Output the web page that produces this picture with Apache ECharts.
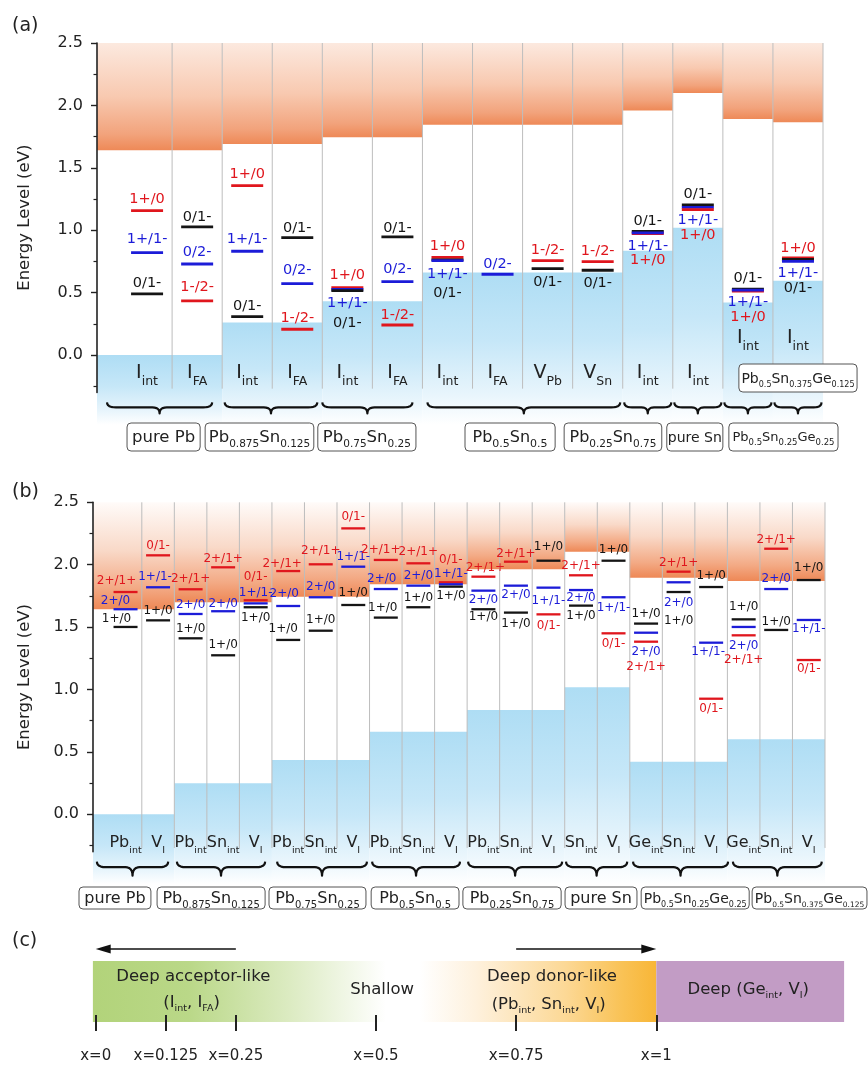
<!DOCTYPE html>
<html>
<head>
<meta charset="utf-8">
<script src="https://cdn.jsdelivr.net/npm/echarts@6/dist/echarts.min.js"></script>
<style>
html,body{margin:0;padding:0;background:#fff;}
#chart{width:868px;height:1065px;}
</style>
</head>
<body>
<div id="chart"></div>
<script>
// ================= DATA =================
// ---- panel (a) ----
const aCats = [['I','int'],['I','FA'],['I','int'],['I','FA'],['I','int'],['I','FA'],['I','int'],['I','FA'],['V','Pb'],['V','Sn'],['I','int'],['I','int'],['I','int'],['I','int']];
const aGroupStart = [-0.5, 2, 4, 6, 10, 11, 12, 13];
const aGroupEnd   = [2, 4, 6, 10, 11, 12, 13, 14];
const aCBM = [1.64, 1.69, 1.745, 1.845, 1.96, 2.10, 1.89, 1.865];
const aVBM = [0.0, 0.26, 0.43, 0.66, 0.835, 1.02, 0.42, 0.595];
const aLevelCol  = [0,0,0, 1,1,1, 2,2,2, 3,3,3, 4,4,4, 5,5,5, 6,6,6, 7, 8,8, 9,9, 10,10,10, 11,11,11, 12,12,12, 13,13,13];
const aLevelE    = [1.156,0.82,0.489, 1.026,0.729,0.433, 1.357,0.831,0.307, 0.94,0.571,0.206, 0.54,0.525,0.515, 0.946,0.587,0.24, 0.782,0.762,0.756, 0.647, 0.756,0.692, 0.748,0.679, 0.99,0.972,0.978, 1.203,1.183,1.165, 0.527,0.512,0.52, 0.777,0.765,0.75];
const aLevelType = [2,1,0, 0,1,2, 2,1,0, 0,1,2, 2,1,0, 0,1,2, 2,0,1, 1, 2,0, 2,0, 0,2,1, 0,1,2, 0,2,1, 2,0,1];
const aLevelText = ['1+/0','1+/1-','0/1-', '0/1-','0/2-','1-/2-', '1+/0','1+/1-','0/1-', '0/1-','0/2-','1-/2-', '1+/0','1+/1-','0/1-', '0/1-','0/2-','1-/2-', '1+/0','0/1-','1+/1-', '0/2-', '1-/2-','0/1-', '1-/2-','0/1-', '0/1-','1+/0','1+/1-', '0/1-','1+/1-','1+/0', '0/1-','1+/0','1+/1-', '1+/0','0/1-','1+/1-'];
const aBoxParts = [['pure Pb'], ['Pb','0.875','Sn','0.125'], ['Pb','0.75','Sn','0.25'], ['Pb','0.5','Sn','0.5'], ['Pb','0.25','Sn','0.75'], ['pure Sn'], ['Pb','0.5','Sn','0.25','Ge','0.25'], ['Pb','0.5','Sn','0.375','Ge','0.125']];

// ---- panel (b) ----
const bCats = [['Pb','int'],['V','I'],['Pb','int'],['Sn','int'],['V','I'],['Pb','int'],['Sn','int'],['V','I'],['Pb','int'],['Sn','int'],['V','I'],['Pb','int'],['Sn','int'],['V','I'],['Sn','int'],['V','I'],['Ge','int'],['Sn','int'],['V','I'],['Ge','int'],['Sn','int'],['V','I']];
const bGroupStart = [-0.5, 2, 5, 8, 11, 14, 16, 19];
const bGroupEnd   = [2, 5, 8, 11, 14, 16, 19, 22];
const bCBM = [1.643, 1.699, 1.744, 1.843, 1.963, 2.104, 1.896, 1.87];
const bVBM = [0.0, 0.248, 0.435, 0.662, 0.836, 1.018, 0.421, 0.601];
const bLevelCol  = [0,0,0, 1,1,1, 2,2,2, 3,3,3, 4,4,4, 5,5,5, 6,6,6, 7,7,7, 8,8,8, 9,9,9, 10,10,10, 11,11,11, 12,12,12, 13,13,13, 14,14,14, 15,15,15, 16,16,16, 17,17,17, 18,18,18, 19,19,19, 20,20,20, 21,21,21];
const bLevelE    = [1.781,1.643,1.501, 2.075,1.819,1.554, 1.803,1.605,1.41, 1.979,1.627,1.274, 1.715,1.69,1.659, 1.949,1.669,1.397, 2.003,1.739,1.471, 2.291,1.984,1.677, 2.038,1.805,1.576, 2.011,1.832,1.659, 1.859,1.843,1.824, 1.904,1.792,1.643, 2.024,1.832,1.616, 1.602,1.816,2.032, 1.915,1.797,1.672, 1.45,1.739,2.032, 1.383,1.455,1.528, 1.944,1.859,1.781, 0.926,1.375,1.821, 1.434,1.501,1.562, 2.128,1.805,1.477, 1.236,1.557,1.877];
const bLevelType = [2,1,0, 2,1,0, 2,1,0, 2,1,0, 2,1,0, 2,1,0, 2,1,0, 2,1,0, 2,1,0, 2,1,0, 2,1,0, 2,1,0, 2,1,0, 2,1,0, 2,1,0, 2,1,0, 2,1,0, 2,1,0, 2,1,0, 2,1,0, 2,1,0, 2,1,0];
const bLevelText = ['2+/1+','2+/0','1+/0', '0/1-','1+/1-','1+/0', '2+/1+','2+/0','1+/0', '2+/1+','2+/0','1+/0', '0/1-','1+/1-','1+/0', '2+/1+','2+/0','1+/0', '2+/1+','2+/0','1+/0', '0/1-','1+/1-','1+/0', '2+/1+','2+/0','1+/0', '2+/1+','2+/0','1+/0', '0/1-','1+/1-','1+/0', '2+/1+','2+/0','1+/0', '2+/1+','2+/0','1+/0', '0/1-','1+/1-','1+/0', '2+/1+','2+/0','1+/0', '0/1-','1+/1-','1+/0', '2+/1+','2+/0','1+/0', '2+/1+','2+/0','1+/0', '0/1-','1+/1-','1+/0', '2+/1+','2+/0','1+/0', '2+/1+','2+/0','1+/0', '0/1-','1+/1-','1+/0'];
const bBoxParts = [['pure Pb'], ['Pb','0.875','Sn','0.125'], ['Pb','0.75','Sn','0.25'], ['Pb','0.5','Sn','0.5'], ['Pb','0.25','Sn','0.75'], ['pure Sn'], ['Pb','0.5','Sn','0.25','Ge','0.25'], ['Pb','0.5','Sn','0.375','Ge','0.125']];

// ---- panel (c) ----
const cTickVals = [0, 0.125, 0.25, 0.5, 0.75, 1];
const cRegionStart = [-0.005, 1.0];
const cRegionEnd   = [1.0, 1.335];
const cTexts = [['Deep acceptor-like'], ['(I','int',', I','FA',')'], ['Shallow'], ['Deep donor-like'], ['(Pb','int',', Sn','int',', V','I',')'], ['Deep (Ge','int',', V','I',')']];
const cArrowFrom = [0.25, 0.75];
const cArrowTo   = [0.0, 1.0];

// ================= LAYOUT / STYLE =================
const aLabelDy = [-11,-13,-11, -10,-12,-14, -11,-12,-10, -9,-13,-11, -12,14,33, -9,-12,-10, -11,33,14, -10, -10,14, -10,13, -10,27,13, -11,13,26, -11,26,12, -10,29,12];
const aCatY = [-0.145,-0.145,-0.145,-0.145,-0.145,-0.145,-0.145,-0.145,-0.145,-0.145,-0.145,-0.145,0.137,0.137];
const aBraceStart = [-0.3, 2.05, 4.0, 6.1, 10.03, 11.03, 12.03, 13.03];
const aBraceEnd   = [1.8, 3.9, 5.8, 9.95, 10.97, 11.97, 12.97, 13.97];
const aBoxX1 = [0.1, 1.66, 3.91, 6.85, 8.83, 10.88, 12.12, 12.32];
const aBoxX2 = [1.56, 3.83, 5.87, 8.65, 10.78, 12.0, 14.3, 14.68];
const aBoxTop = [30.6, 30.6, 30.6, 30.6, 30.6, 30.6, 30.6, -28.4];
const aBoxH = 28;
const aBoxFont = [[16.5,10.5],[16.5,10.5],[16.5,10.5],[16,11],[16,10.5],[14,9],[13,8.5],[14,8]];

const bLabelDx = [-9,-10,-9, 0,-3,0, 0,0,0, 0,0,0, 0,0,0, -6,-4,-5, 0,0,0, 0,0,0, -5,-4,-3, 0,0,0, 0,0,0, 2,0,0, 0,0,0, 0,0,0, 0,0,0, 0,0,0, 0,0,0, 0,0,0, 0,-3,0, 0,0,0, 0,0,0, 0,0,0];
const bLabelDy = [-11,-8,-8, -9,-10,-9, -10,-9,-9, -8,-7,-10, -23,-11,11, -7,-12,-11, -13,-10,-11, -12,-10,-12, -10,-10,-10, -11,-10,-9, -22,-10,9, -9,9,8, -8,9,11, 12,13,-14, -9,8,10, 11,11,-11, 25,19,-10, -9,21,29, 10,9,-11, 25,19,-12, -9,-10,-8, 9,9,-12];
const bCatY = -0.23;
const bBraceStart = [-0.38, 2.08, 5.16, 8.08, 11.03, 14.04, 16.1, 19.17];
const bBraceEnd   = [1.81, 4.79, 7.92, 10.78, 13.92, 15.92, 19.02, 21.9];
const bBoxX1 = [-0.93, 1.47, 4.91, 8.05, 10.87, 14.01, 16.35, 19.76];
const bBoxX2 = [1.28, 4.79, 7.89, 10.75, 13.89, 16.22, 19.67, 23.29];
const bBoxTop = 35.3, bBoxH = 22;
const bBoxFont = [[16,10],[16,10],[16,10],[16,10],[16,10],[16,10],[14,8],[14,7.5]];

const cTextX  = [0.174, 0.171, 0.511, 0.814, 0.808, 1.164];
const cTextDy = [16, 42, 29, 16, 44, 29];

const FF = 'DejaVu Sans';
const INK = '#222';
const LEVEL_COLORS = ['#151515', '#1c1cd8', '#e0161d'];

// ================= HELPERS =================
function toRich(parts) {
  return parts.map((p, i) => (i % 2 === 0 ? '{m|' + p + '}' : '{s|' + p + '}')).join('');
}
function richStyle(m, s, lh, color) {
  return {
    m: {fontSize: m, fontFamily: FF, lineHeight: lh, fill: color},
    s: {fontSize: s, fontFamily: FF, lineHeight: Math.round(s * 1.1), verticalAlign: 'bottom', fill: color}
  };
}
function quadPts(p0, c, p1, n, out) {
  for (let k = 1; k <= n; k++) {
    const t = k / n, a = (1 - t) * (1 - t), b = 2 * (1 - t) * t, d = t * t;
    out.push([a * p0[0] + b * c[0] + d * p1[0], a * p0[1] + b * c[1] + d * p1[1]]);
  }
}
function bracePoints(x1, x2, y0, y1, y2) {
  const xm = (x1 + x2) / 2;
  const r = Math.min(9, (xm - x1) / 3);
  const pts = [[x1, y0]];
  quadPts([x1, y0], [x1, y1], [x1 + r, y1], 6, pts);
  pts.push([xm - r * 0.8, y1]);
  quadPts([xm - r * 0.8, y1], [xm, y1], [xm, y2], 6, pts);
  quadPts([xm, y2], [xm, y1], [xm + r * 0.8, y1], 6, pts);
  pts.push([x2 - r, y1]);
  quadPts([x2 - r, y1], [x2, y1], [x2, y0], 6, pts);
  return pts;
}
const G = echarts.graphic;
function grad(stops, horizontal) {
  return new G.LinearGradient(0, 0, horizontal ? 1 : 0, horizontal ? 0 : 1, stops.map(s => ({offset: s[0], color: s[1]})));
}
const orangeA = [[0, '#FCE9DF'], [0.5, '#F8C9B0'], [0.85, '#F2A37C'], [1, '#EE8957']];
const orangeB = [[0, '#FFFBF9'], [0.45, '#F9D9C8'], [0.8, '#F3AA85'], [1, '#EE8856']];
const blueFill = [[0, '#AEDDF4'], [0.45, '#C6E7F8'], [0.8, '#E8F5FC'], [1, '#FFFFFF']];

function fillRender(orangeStops) {
  return function (params, api) {
    const x1 = api.coord([api.value(0), 0])[0];
    const x2 = api.coord([api.value(1), 0])[0];
    const yTop = api.coord([0, 2.5])[1];
    const yC = api.coord([0, api.value(2)])[1];
    const yV = api.coord([0, api.value(3)])[1];
    const yB = api.coord([0, -0.56])[1];
    return {type: 'group', children: [
      {type: 'rect', shape: {x: x1, y: yTop, width: x2 - x1, height: yC - yTop}, style: {fill: grad(orangeStops)}},
      {type: 'rect', shape: {x: x1, y: yV, width: x2 - x1, height: yB - yV}, style: {fill: grad(blueFill)}}
    ]};
  };
}
function dividerRender(params, api) {
  const p1 = api.coord([api.value(0), 2.5]);
  const p2 = api.coord([api.value(0), -0.27]);
  return {type: 'line', shape: {x1: p1[0], y1: p1[1], x2: p2[0], y2: p2[1]}, style: {stroke: '#bdbdbd', lineWidth: 1}};
}
function levelRender(texts, dxs, dys, halfW, lw, fs) {
  return function (params, api) {
    const i = params.dataIndex;
    const p = api.coord([api.value(0), api.value(1)]);
    const color = LEVEL_COLORS[api.value(2)];
    return {type: 'group', children: [
      {type: 'line', shape: {x1: p[0] - halfW, y1: p[1], x2: p[0] + halfW, y2: p[1]}, style: {stroke: color, lineWidth: lw}},
      {type: 'text', x: p[0] + (dxs ? dxs[i] : 0), y: p[1] + dys[i], style: {text: texts[i], fill: color, fontFamily: FF, fontSize: fs, align: 'center', verticalAlign: 'middle'}}
    ]};
  };
}
function catRender(cats, m, s, lh) {
  return function (params, api) {
    const i = params.dataIndex;
    const p = api.coord([api.value(0), api.value(1)]);
    return {type: 'text', x: p[0], y: p[1], style: {text: toRich(cats[i]), rich: richStyle(m, s, lh, INK), align: 'center', verticalAlign: 'middle'}};
  };
}
function braceRender(d0, d1, d2) {
  return function (params, api) {
    const cs = params.coordSys;
    const yb = cs.y + cs.height;
    const x1 = api.coord([api.value(0), 0])[0];
    const x2 = api.coord([api.value(1), 0])[0];
    return {type: 'polyline', shape: {points: bracePoints(x1, x2, yb + d0, yb + d1, yb + d2)}, style: {stroke: '#111', lineWidth: 2.2, fill: null, lineJoin: 'round'}};
  };
}
function boxRender(parts, tops, h, fonts) {
  return function (params, api) {
    const i = params.dataIndex;
    const cs = params.coordSys;
    const yb = cs.y + cs.height;
    const x1 = api.coord([api.value(0), 0])[0];
    const x2 = api.coord([api.value(1), 0])[0];
    const top = yb + (Array.isArray(tops) ? tops[i] : tops);
    const f = fonts[i];
    return {type: 'group', children: [
      {type: 'rect', shape: {x: x1, y: top, width: x2 - x1, height: h, r: 4}, style: {fill: '#fff', stroke: '#555', lineWidth: 1}},
      {type: 'text', x: (x1 + x2) / 2, y: top + h / 2 + 1, style: {text: toRich(parts[i]), rich: richStyle(f[0], f[1], Math.round(f[0] * 1.45), INK), align: 'center', verticalAlign: 'middle'}}
    ]};
  };
}
const cFills = [grad([[0, '#B2D37A'], [0.17, '#BAD888'], [0.35, '#DCEBC2'], [0.52, '#FFFFFF'], [0.58, '#FFFFFF'], [0.68, '#FEF1DD'], [0.84, '#FCD895'], [0.94, '#F9C255'], [1, '#F8B637']], true), '#C29CC5'];
function cRegionRender(params, api) {
  const cs = params.coordSys;
  const x1 = api.coord([api.value(0), 0])[0];
  const x2 = api.coord([api.value(1), 0])[0];
  return {type: 'rect', shape: {x: x1, y: cs.y, width: x2 - x1, height: cs.height}, style: {fill: cFills[params.dataIndex]}};
}
function cArrowRender(params, api) {
  const cs = params.coordSys;
  const y = cs.y - 12;
  const xa = api.coord([api.value(0), 0])[0];
  const xb = api.coord([api.value(1), 0])[0];
  const dir = xb > xa ? 1 : -1;
  const hl = 15, hw = 4.5;
  return {type: 'group', children: [
    {type: 'line', shape: {x1: xa, y1: y, x2: xb - dir * hl * 0.8, y2: y}, style: {stroke: '#111', lineWidth: 1.6}},
    {type: 'polygon', shape: {points: [[xb, y], [xb - dir * hl, y - hw], [xb - dir * hl, y + hw]]}, style: {fill: '#111'}}
  ]};
}
function cTextRender(params, api) {
  const i = params.dataIndex;
  const cs = params.coordSys;
  const x = api.coord([api.value(0), 0])[0];
  return {type: 'text', x: x, y: cs.y + cTextDy[i], style: {text: toRich(cTexts[i]), rich: richStyle(16.5, 9.5, 22, INK), align: 'center', verticalAlign: 'middle'}};
}

// ================= OPTION =================
const majorVals = [0, 0.5, 1, 1.5, 2, 2.5];
const minorVals = [-0.25, 0.25, 0.75, 1.25, 1.75, 2.25];
function yMain(gi, gap) {
  return {gridIndex: gi, type: 'value', min: -0.3, max: 2.5, position: 'left', z: 10,
    name: 'Energy Level (eV)', nameLocation: 'middle', nameGap: gap,
    nameTextStyle: {fontFamily: FF, fontSize: 16.5, color: INK},
    axisLine: {show: true, onZero: false, lineStyle: {color: INK, width: 1.6}},
    axisTick: {show: true, customValues: majorVals, length: 6, lineStyle: {color: INK, width: 1.4}},
    axisLabel: {customValues: majorVals, formatter: v => v.toFixed(1), fontFamily: FF, fontSize: 16, color: INK, margin: 14},
    splitLine: {show: false}};
}
function yMinor(gi) {
  return {gridIndex: gi, type: 'value', min: -0.3, max: 2.5, position: 'left', offset: 0, z: 10,
    axisLine: {show: false, onZero: false}, axisLabel: {show: false}, splitLine: {show: false},
    axisTick: {show: true, customValues: minorVals, length: 3.5, lineStyle: {color: INK, width: 1.2}}};
}
function range(n0, n1) { const r = []; for (let k = n0; k <= n1; k++) r.push([k]); return r; }

const option = {
  animation: false,
  backgroundColor: '#fff',
  grid: [
    {left: 97, top: 43, width: 726, height: 349.4},
    {left: 93, top: 502.3, width: 732, height: 349.4},
    {left: 95.7, top: 961, width: 560.6, height: 61}
  ],
  xAxis: [
    {gridIndex: 0, type: 'value', min: -0.5, max: 14, show: false},
    {gridIndex: 1, type: 'value', min: -0.5, max: 22, show: false},
    {gridIndex: 2, type: 'value', min: 0, max: 1, position: 'bottom', offset: -7, z: 10,
      axisLine: {show: false, onZero: false}, splitLine: {show: false},
      axisTick: {show: true, customValues: cTickVals, length: 16, lineStyle: {color: INK, width: 2}},
      axisLabel: {customValues: cTickVals, formatter: v => 'x=' + v, margin: 34, fontFamily: FF, fontSize: 15, color: INK}}
  ],
  yAxis: [yMain(0, 64), yMinor(0), yMain(1, 60), yMinor(1),
    {gridIndex: 2, type: 'value', min: 0, max: 1, show: false}],
  graphic: [
    {type: 'text', x: 12, y: 26, style: {text: '(a)', fontFamily: FF, fontSize: 19, fill: INK, verticalAlign: 'middle'}},
    {type: 'text', x: 12, y: 492, style: {text: '(b)', fontFamily: FF, fontSize: 19, fill: INK, verticalAlign: 'middle'}},
    {type: 'text', x: 12, y: 941, style: {text: '(c)', fontFamily: FF, fontSize: 19, fill: INK, verticalAlign: 'middle'}}
  ],
  series: [
    // panel (a)
    {type: 'custom', xAxisIndex: 0, yAxisIndex: 0, clip: false, silent: true, z: 1,
      data: aGroupStart.map((s, i) => [s, aGroupEnd[i], aCBM[i], aVBM[i]]), renderItem: fillRender(orangeA)},
    {type: 'custom', xAxisIndex: 0, yAxisIndex: 0, clip: false, silent: true, z: 2,
      data: range(1, 14), renderItem: dividerRender},
    {type: 'custom', xAxisIndex: 0, yAxisIndex: 0, clip: false, silent: true, z: 3,
      data: aLevelE.map((e, i) => [aLevelCol[i] + 0.5, e, aLevelType[i]]),
      renderItem: levelRender(aLevelText, null, aLabelDy, 16, 2.8, 14.5)},
    {type: 'custom', xAxisIndex: 0, yAxisIndex: 0, clip: false, silent: true, z: 3,
      data: aCats.map((c, i) => [i + 0.5, aCatY[i]]), renderItem: catRender(aCats, 19, 12.5, 30)},
    {type: 'custom', xAxisIndex: 0, yAxisIndex: 0, clip: false, silent: true, z: 4,
      data: aBraceStart.map((s, i) => [s, aBraceEnd[i]]), renderItem: braceRender(10, 15, 21)},
    {type: 'custom', xAxisIndex: 0, yAxisIndex: 0, clip: false, silent: true, z: 5,
      data: aBoxX1.map((s, i) => [s, aBoxX2[i]]), renderItem: boxRender(aBoxParts, aBoxTop, aBoxH, aBoxFont)},
    // panel (b)
    {type: 'custom', xAxisIndex: 1, yAxisIndex: 2, clip: false, silent: true, z: 1,
      data: bGroupStart.map((s, i) => [s, bGroupEnd[i], bCBM[i], bVBM[i]]), renderItem: fillRender(orangeB)},
    {type: 'custom', xAxisIndex: 1, yAxisIndex: 2, clip: false, silent: true, z: 2,
      data: range(1, 22), renderItem: dividerRender},
    {type: 'custom', xAxisIndex: 1, yAxisIndex: 2, clip: false, silent: true, z: 3,
      data: bLevelE.map((e, i) => [bLevelCol[i] + 0.5, e, bLevelType[i]]),
      renderItem: levelRender(bLevelText, bLabelDx, bLabelDy, 12, 2.3, 12)},
    {type: 'custom', xAxisIndex: 1, yAxisIndex: 2, clip: false, silent: true, z: 3,
      data: bCats.map((c, i) => [i + 0.5, bCatY]), renderItem: catRender(bCats, 16, 9.5, 26)},
    {type: 'custom', xAxisIndex: 1, yAxisIndex: 2, clip: false, silent: true, z: 4,
      data: bBraceStart.map((s, i) => [s, bBraceEnd[i]]), renderItem: braceRender(10, 15.5, 24)},
    {type: 'custom', xAxisIndex: 1, yAxisIndex: 2, clip: false, silent: true, z: 5,
      data: bBoxX1.map((s, i) => [s, bBoxX2[i]]), renderItem: boxRender(bBoxParts, bBoxTop, bBoxH, bBoxFont)},
    // panel (c)
    {type: 'custom', xAxisIndex: 2, yAxisIndex: 4, clip: false, silent: true, z: 1,
      data: cRegionStart.map((s, i) => [s, cRegionEnd[i]]), renderItem: cRegionRender},
    {type: 'custom', xAxisIndex: 2, yAxisIndex: 4, clip: false, silent: true, z: 3,
      data: cArrowFrom.map((s, i) => [s, cArrowTo[i]]), renderItem: cArrowRender},
    {type: 'custom', xAxisIndex: 2, yAxisIndex: 4, clip: false, silent: true, z: 3,
      data: cTextX.map(x => [x]), renderItem: cTextRender}
  ]
};
const chart = echarts.init(document.getElementById('chart'), null, {renderer: 'canvas'});
chart.setOption(option);
</script>
</body>
</html>
